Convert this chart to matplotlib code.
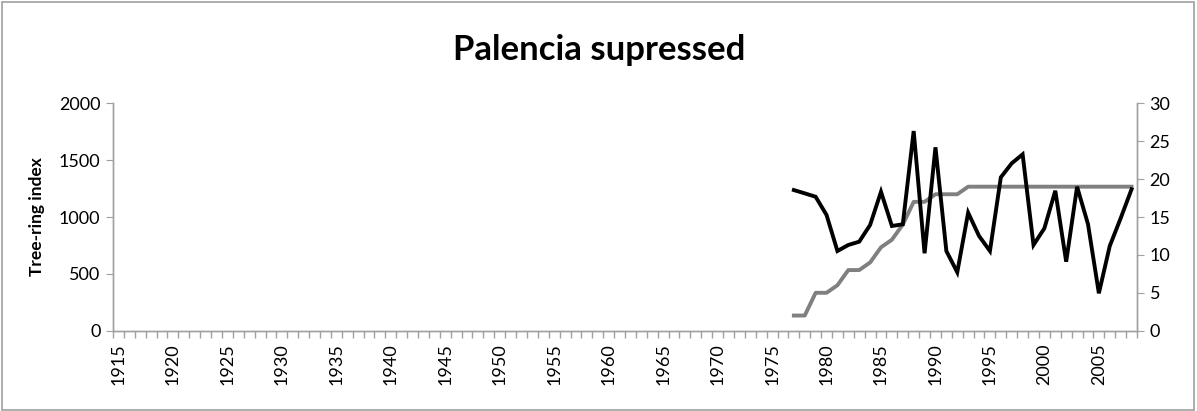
import matplotlib
matplotlib.use("Agg")
import matplotlib.pyplot as plt
from matplotlib.patches import Rectangle
from matplotlib.ticker import FixedLocator, NullFormatter

plt.rcParams['font.family'] = ['Lato', 'DejaVu Sans']

title = "Palencia supressed"
ylabel = "Tree-ring index"

all_years = list(range(1915, 2009))
data_years = list(range(1977, 2009))
tree_ring_index = [1237, 1208, 1178, 1018, 701, 754, 783, 930, 1222, 921,
                   936, 1756, 681, 1613, 701, 514, 1038, 833, 701, 1349,
                   1472, 1551, 754, 901, 1231, 607, 1266, 938, 329, 745,
                   989, 1244]
sample_depth = [2, 2, 5, 5, 6, 8, 8, 9, 11, 12, 14, 17, 17, 18, 18, 18,
                19, 19, 19, 19, 19, 19, 19, 19, 19, 19, 19, 19, 19, 19, 19, 19]
label_years = list(range(1915, 2009, 5))

W, H = 1197, 411
fig = plt.figure(figsize=(W / 100, H / 100), dpi=100)
left, right, top, bottom = 113, 1137, 103.3, 330.7
ax = fig.add_axes([left / W, 1 - bottom / H, (right - left) / W, (bottom - top) / H])
ax2 = ax.twinx()

ax.plot(data_years, tree_ring_index, color='black', lw=2.8, solid_joinstyle='miter', zorder=3)
ax2.plot(data_years, sample_depth, color='#808080', lw=2.8, zorder=2)
ax.set_zorder(ax2.get_zorder() + 1)
ax.patch.set_visible(False)

ax.set_xlim(all_years[0] - 0.5, all_years[-1] + 0.5)
ax.set_ylim(0, 2000)
ax2.set_ylim(0, 30)
ax.set_yticks([0, 500, 1000, 1500, 2000])
ax2.set_yticks([0, 5, 10, 15, 20, 25, 30])

ax.set_xticks(label_years)
ax.set_xticklabels([str(y) for y in label_years], rotation=90)
ax.xaxis.set_minor_locator(FixedLocator([y - 0.5 for y in all_years] + [all_years[-1] + 0.5]))
ax.xaxis.set_minor_formatter(NullFormatter())
ax.tick_params(axis='x', which='major', length=0, pad=9, labelsize=13)
ax.tick_params(axis='x', which='minor', length=5, color='#a0a0a0', width=1)
ax.tick_params(axis='y', length=5, color='#a0a0a0', labelsize=13, pad=4)
ax2.tick_params(axis='y', length=5, color='#a0a0a0', labelsize=13, pad=4)

for a in (ax, ax2):
    a.spines['top'].set_visible(False)
    for s in ('left', 'right', 'bottom'):
        a.spines[s].set_color('#a0a0a0')
        a.spines[s].set_linewidth(1)

ax.set_ylabel(ylabel, fontsize=12.5, fontweight='bold', labelpad=10)
fig.text(599 / W, 1 - 50 / H, title, ha='center', va='center', fontsize=25, fontweight='bold')

fig.patches.append(Rectangle((2 / W, 1 / H), (W - 5) / W, (H - 3) / H, transform=fig.transFigure,
                             fill=False, edgecolor='#a0a0a0', lw=1.2))

fig.savefig('out.png', dpi=100)
